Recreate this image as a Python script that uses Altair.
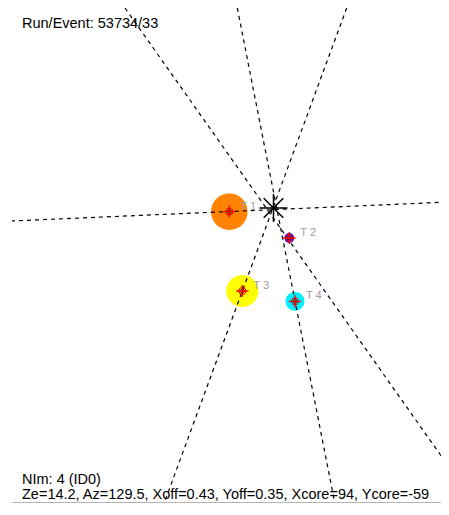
import altair as alt
import pandas as pd

# ---- data (plot coordinates, y downward) ----
tel_names = ["T 1", "T 2", "T 3", "T 4"]
tel_x = [217.3, 277.3, 230.3, 283.0]
tel_y = [203.7, 230.0, 283.0, 293.3]
tel_radius = [18.3, 5.0, 16.0, 9.5]
tel_colors = ["#ff8200", "#3a1ee6", "#ffff00", "#00f0ff"]

# image axes (one line per telescope, two end points each)
axis_tel = ["T 1", "T 1", "T 2", "T 2", "T 3", "T 3", "T 4", "T 4"]
axis_x = [-1.0, 437.0, 113.0, 437.0, 334.7, 150.7, 225.3, 323.6]
axis_y = [213.0, 194.0, 0.0, 459.0, 0.0, 499.0, 0.0, 499.0]
axis_ord = [0, 1, 0, 1, 0, 1, 0, 1]

# reconstructed shower direction
src_x = [261.5]
src_y = [200.0]

run_event = "Run/Event: 53734/33"
n_images = "NIm: 4 (ID0)"
params = "Ze=14.2, Az=129.5, Xoff=0.43, Yoff=0.35, Xcore=94, Ycore=-59"

tel = pd.DataFrame({"tel": tel_names, "x": tel_x, "y": tel_y, "r": tel_radius})
tel["size"] = (2 * tel["r"]) ** 2
axes = pd.DataFrame({"tel": axis_tel, "x": axis_x, "y": axis_y, "o": axis_ord})
src = pd.DataFrame({"x": src_x, "y": src_y})

W, H = 429, 494
xs = alt.Scale(domain=[0, W], nice=False, zero=False)
ys = alt.Scale(domain=[0, H], nice=False, zero=False, reverse=True)
xax = alt.Axis(labels=False, ticks=False, grid=False, title=None,
               domainColor="#b4b4b4", domainWidth=1)
X = alt.X("x:Q", scale=xs, axis=xax)
Y = alt.Y("y:Q", scale=ys, axis=None)
FONT = "Liberation Sans"

circles = alt.Chart(tel).mark_circle(opacity=1).encode(
    x=X, y=Y,
    size=alt.Size("size:Q", scale=None, legend=None),
    color=alt.Color("tel:N", scale=alt.Scale(domain=tel_names, range=tel_colors), legend=None),
)

lines = alt.Chart(axes).mark_line(
    color="black", strokeDash=[4, 4], strokeWidth=1.2, clip=True
).encode(x=X, y=Y, detail="tel:N", order="o:Q")

plus_path = "M-1,0L1,0M0,-1L0,1"
red_plus = alt.Chart(tel).mark_point(
    shape=plus_path, filled=False, color="#ff0000", strokeWidth=1.3, size=150, opacity=1
).encode(x=X, y=Y)
red_ring = alt.Chart(tel).mark_point(
    shape="circle", filled=False, color="#e00000", strokeWidth=1, size=50, opacity=1
).encode(x=X, y=Y)
black_dia = alt.Chart(tel).mark_point(
    shape="diamond", filled=False, color="black", strokeWidth=1, size=25, opacity=1
).encode(x=X, y=Y)

labels = alt.Chart(tel).mark_text(
    align="left", baseline="middle", dx=11, dy=-5, font=FONT, fontSize=11, color="#a0a0a0"
).encode(x=X, y=Y, text="tel:N")

star_path = "M-1,0L1,0M0,-1L0,1M-0.7,-0.7L0.7,0.7M-0.7,0.7L0.7,-0.7"
star = alt.Chart(src).mark_point(
    shape=star_path, filled=False, color="black", strokeWidth=1.5, size=784, opacity=1
).encode(x=X, y=Y)
star_dot = alt.Chart(src).mark_point(
    shape="circle", filled=True, color="black", size=16, opacity=1
).encode(x=X, y=Y)

def txt(s, ypix):
    return alt.Chart(pd.DataFrame({"t": [s]})).mark_text(
        align="left", baseline="alphabetic", font=FONT, fontSize=14.5, color="black"
    ).encode(x=alt.value(10), y=alt.value(ypix), text="t:N")

chart = alt.layer(
    circles, lines, black_dia, red_ring, red_plus, star, star_dot, labels,
    txt(run_event, 20), txt(n_images, 476), txt(params, 491),
).properties(
    width=W, height=H,
    autosize=alt.AutoSizeParams(type="none"),
    padding={"left": 4, "top": 0, "right": 0, "bottom": 1},
).configure_view(stroke=None)

chart.save("out.html", embed_options={"renderer": "svg", "actions": False})
